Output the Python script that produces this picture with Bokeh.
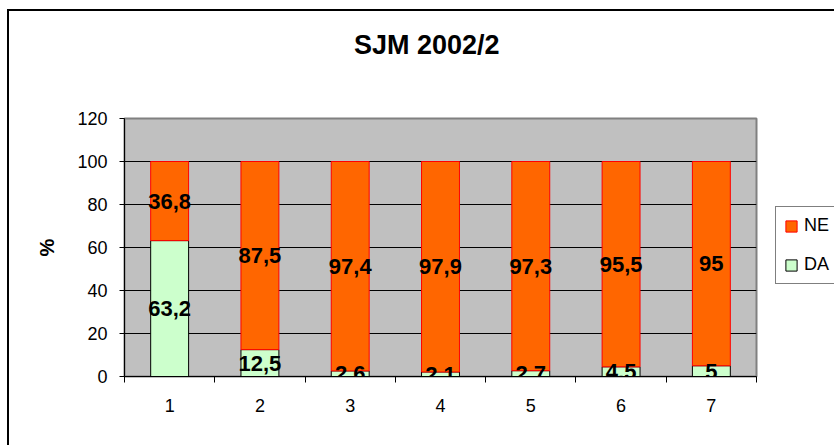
from bokeh.plotting import figure
from bokeh.layouts import column
from bokeh.models import ColumnDataSource, FixedTicker, Legend, LegendItem, Div
from bokeh.embed import file_html
from bokeh.resources import INLINE
from bokeh.core.properties import value

# ---- data ----
categories = ["1", "2", "3", "4", "5", "6", "7"]
da = [63.2, 12.5, 2.6, 2.1, 2.7, 4.5, 5]
ne = [36.8, 87.5, 97.4, 97.9, 97.3, 95.5, 95]
y_ticks = [0, 20, 40, 60, 80, 100, 120]
title_text = "SJM 2002/2"

FONT = "Liberation Sans"

x = list(range(1, len(categories) + 1))
src = ColumnDataSource(dict(x=x, DA=da, NE=ne))

title_div = Div(text=title_text, width=825, height=68, margin=0,
                styles={"font-family": FONT, "font-size": "27px",
                        "font-weight": "bold", "color": "black",
                        "line-height": "68px", "padding-left": "345px",
                        "white-space": "nowrap"})

p = figure(frame_width=632, frame_height=258, output_backend="svg",
           toolbar_location=None,
           x_range=(0.5, len(categories) + 0.5), y_range=(0, 120),
           min_border_left=115, min_border_right=78, min_border_top=39,
           min_border_bottom=69, margin=0)
p.title.text = ""

p.background_fill_color = "#C0C0C0"
p.border_fill_color = "white"
p.outline_line_color = "#808080"
p.outline_line_width = 2

rs = p.vbar_stack(["DA", "NE"], x="x", width=0.42, source=src,
                  fill_color=["#CCFFCC", "#FF6600"],
                  line_color=["black", "#FF0000"], line_width=1)

# value labels
lx, ly, lt = [], [], []
def fmt(v):
    return ("%g" % v).replace(".", ",")
for xi, d, n in zip(x, da, ne):
    lx.append(xi); ly.append(d / 2.0); lt.append(fmt(d))
    lx.append(xi); ly.append(d + n / 2.0); lt.append(fmt(n))
lsrc = ColumnDataSource(dict(x=lx, y=ly, t=lt))
p.text(x="x", y="y", text="t", source=lsrc, text_align="center",
       text_baseline="middle", text_font=value(FONT), text_font_size="22px",
       text_font_style="bold", text_color="black")

# grid
p.xgrid.grid_line_color = None
p.ygrid.grid_line_color = "black"
p.ygrid.grid_line_width = 1
p.ygrid.ticker = FixedTicker(ticks=y_ticks)

# y axis
p.yaxis.ticker = FixedTicker(ticks=y_ticks)
p.yaxis.major_tick_out = 5
p.yaxis.major_tick_in = 0
p.yaxis.minor_tick_line_color = None
p.yaxis.major_label_standoff = 12
p.yaxis.major_label_text_font = FONT
p.yaxis.major_label_text_font_size = "18px"
p.yaxis.major_label_text_color = "black"
p.yaxis.axis_line_color = "black"
p.yaxis.major_tick_line_color = "black"
p.yaxis.axis_label = "%"
p.yaxis.axis_label_text_font = FONT
p.yaxis.axis_label_text_font_size = "20px"
p.yaxis.axis_label_text_font_style = "bold"
p.yaxis.axis_label_text_color = "black"
p.yaxis.axis_label_standoff = 16

# x axis
p.xaxis.ticker = FixedTicker(ticks=x, minor_ticks=[i + 0.5 for i in range(len(categories) + 1)])
p.xaxis.major_label_overrides = {xi: c for xi, c in zip(x, categories)}
p.xaxis.major_tick_out = 0
p.xaxis.major_tick_in = 0
p.xaxis.minor_tick_out = 6
p.xaxis.minor_tick_in = 0
p.xaxis.minor_tick_line_color = "black"
p.xaxis.major_label_standoff = 16
p.xaxis.major_label_text_font = FONT
p.xaxis.major_label_text_font_size = "18px"
p.xaxis.major_label_text_color = "black"
p.xaxis.axis_line_color = "black"

# legend in right-hand panel
legend = Legend(items=[LegendItem(label="NE", renderers=[rs[1]]),
                       LegendItem(label="DA", renderers=[rs[0]])],
                location=(19, 92), orientation="vertical",
                label_text_font=FONT, label_text_font_size="18px",
                label_text_color="black",
                glyph_width=14, glyph_height=14, label_standoff=6,
                label_height=20, spacing=18, padding=8, margin=0,
                border_line_color="black", border_line_width=1,
                background_fill_color="white", background_fill_alpha=1)
p.add_layout(legend, "right")

layout = column(title_div, p, spacing=0, margin=0,
                styles={"margin-left": "7px", "margin-top": "9px",
                        "border-left": "2px solid black",
                        "border-top": "2px solid black"})

open("out.html", "w").write(file_html(layout, INLINE))
